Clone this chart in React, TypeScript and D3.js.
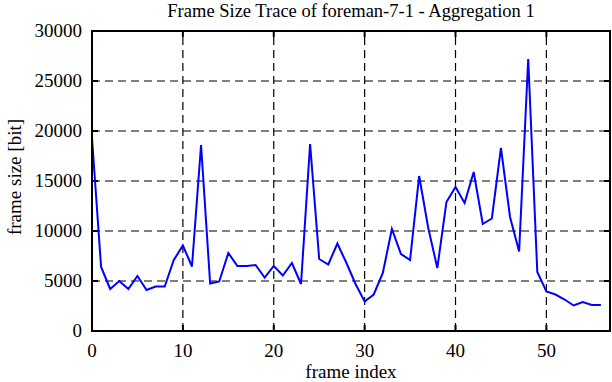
import React from "react";
import * as d3 from "d3";

const frameIndex: number[] = Array.from({ length: 57 }, (_, i) => i);
const frameSize: number[] = [
  19300, 6400, 4200, 5000, 4200, 5500, 4100, 4450, 4450, 7100,
  8550, 6450, 18600, 4750, 4950, 7800, 6500, 6500, 6600, 5350,
  6500, 5550, 6800, 4700, 18700, 7200, 6650, 8750, 6800, 4700,
  2950, 3650, 5800, 10200, 7700, 7100, 15500, 10300, 6300, 12900,
  14400, 12800, 15900, 10700, 11250, 18300, 11400, 7950, 27200, 5900,
  3950, 3650, 3150, 2550, 2900, 2600, 2600,
];
const xTicks: number[] = [0, 10, 20, 30, 40, 50];
const yTicks: number[] = [0, 5000, 10000, 15000, 20000, 25000, 30000];
const title = "Frame Size Trace of foreman-7-1 - Aggregation 1";
const xLabel = "frame index";
const yLabel = "frame size [bit]";

const W = 612;
const H = 382;
const M = { left: 92, right: 2, top: 31, bottom: 51 };
const FONT = "'Liberation Serif', 'Times New Roman', serif";

export default function App() {
  const x = d3.scaleLinear().domain([0, 57]).range([M.left, W - M.right]);
  const y = d3.scaleLinear().domain([0, 30000]).range([H - M.bottom, M.top]);
  const line = d3
    .line<number>()
    .x((_, i) => x(frameIndex[i]))
    .y((d) => y(d));
  const x0 = x(0), x1 = x(57), y0 = y(0), y1 = y(30000);
  const tl = 6;
  return (
    <svg
      width={W}
      height={H}
      style={{ position: "absolute", left: 0, top: 0, background: "#fff" }}
      fontFamily={FONT}
    >
      {/* grid */}
      {yTicks.filter((t) => t > 0 && t < 30000).map((t) => (
        <line key={"gy" + t} x1={x0} x2={x1} y1={y(t)} y2={y(t)} stroke="#000" strokeWidth={1.2} strokeDasharray="8,5" />
      ))}
      {xTicks.filter((t) => t > 0).map((t) => (
        <line key={"gx" + t} x1={x(t)} x2={x(t)} y1={y0} y2={y1} stroke="#000" strokeWidth={1.2} strokeDasharray="8,5" />
      ))}
      {/* ticks */}
      {yTicks.map((t) => (
        <g key={"ty" + t}>
          <line x1={x0} x2={x0 + tl} y1={y(t)} y2={y(t)} stroke="#000" strokeWidth={2} />
          <line x1={x1} x2={x1 - tl} y1={y(t)} y2={y(t)} stroke="#000" strokeWidth={2} />
          <text x={x0 - 10} y={y(t) + 2} textAnchor="end" dominantBaseline="middle" fontSize={19}>
            {t}
          </text>
        </g>
      ))}
      {xTicks.map((t) => (
        <g key={"tx" + t}>
          <line x1={x(t)} x2={x(t)} y1={y0} y2={y0 - tl} stroke="#000" strokeWidth={2} />
          <line x1={x(t)} x2={x(t)} y1={y1} y2={y1 + tl} stroke="#000" strokeWidth={2} />
          <text x={x(t)} y={y0 + 26} textAnchor="middle" fontSize={19}>
            {t}
          </text>
        </g>
      ))}
      {/* data */}
      <path d={line(frameSize) || ""} fill="none" stroke="#0000ff" strokeWidth={2} strokeLinejoin="miter" />
      {/* frame */}
      <rect x={x0} y={y1} width={x1 - x0} height={y0 - y1} fill="none" stroke="#000" strokeWidth={2} />
      {/* labels */}
      <text x={(x0 + x1) / 2} y={17} textAnchor="middle" fontSize={18.5}>
        {title}
      </text>
      <text x={(x0 + x1) / 2} y={378} textAnchor="middle" fontSize={19}>
        {xLabel}
      </text>
      <text
        transform={`translate(21,177) rotate(-90)`}
        textAnchor="middle"
        fontSize={19}
      >
        {yLabel}
      </text>
    </svg>
  );
}
